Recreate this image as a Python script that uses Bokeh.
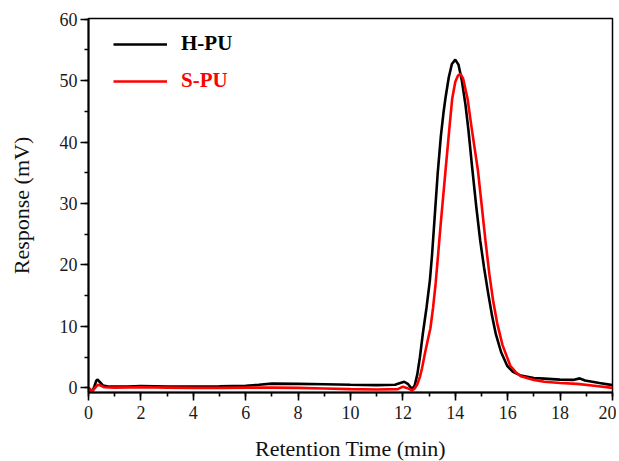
from bokeh.plotting import figure
from bokeh.models import Range1d, Legend, LegendItem, SingleIntervalTicker
from bokeh.embed import file_html
from bokeh.resources import INLINE

# H-PU (black) retention time (min) and response (mV)
hpu_t = [0.0, 0.08, 0.15, 0.22, 0.30, 0.35, 0.42, 0.55, 0.8, 1.5, 2.0, 3.0, 4.0, 5.0,
         6.0, 6.5, 7.0, 8.0, 9.0, 10.0, 11.0, 11.7, 11.9, 12.05, 12.2, 12.35, 12.45,
         12.55, 12.65, 12.76, 12.9, 13.03, 13.11, 13.2, 13.33, 13.45, 13.55, 13.63,
         13.75, 13.87, 14.0, 14.12, 14.25, 14.39, 14.5, 14.64, 14.8, 14.95, 15.1,
         15.25, 15.4, 15.55, 15.75, 15.98, 16.2, 16.5, 17.0, 17.4, 18.0, 18.5, 18.75,
         18.95, 19.5, 20.0]
hpu_v = [0.0, -0.3, -0.6, 0.2, 1.2, 1.35, 1.0, 0.4, 0.2, 0.2, 0.3, 0.2, 0.2, 0.25,
         0.35, 0.5, 0.7, 0.65, 0.6, 0.5, 0.45, 0.5, 0.8, 1.0, 0.6, -0.2, 0.4,
         2.2, 5.0, 8.8, 13.0, 17.5, 21.5, 27.0, 35.0, 41.0, 44.8, 47.3,
         50.5, 52.7, 53.4, 52.6, 50.0, 46.0, 42.0, 36.0, 29.5, 24.0, 19.5,
         15.5, 11.8, 8.7, 5.8, 3.6, 2.6, 2.0, 1.6, 1.5, 1.35, 1.3, 1.55,
         1.2, 0.8, 0.45]

# S-PU (red)
spu_t = [0.0, 0.08, 0.15, 0.25, 0.35, 0.45, 0.6, 1.0, 2.0, 3.0, 4.0, 5.0, 6.0, 7.0,
         8.0, 9.0, 10.0, 11.0, 11.8, 12.0, 12.15, 12.35, 12.45, 12.55, 12.65, 12.73,
         12.85, 12.95, 13.05, 13.15, 13.25, 13.45, 13.64, 13.78, 13.88, 14.0, 14.1,
         14.2, 14.3, 14.47, 14.6, 14.72, 14.86, 15.0, 15.15, 15.3, 15.45, 15.6, 15.8,
         16.1, 16.3, 16.5, 17.0, 17.4, 18.0, 18.65, 19.3, 20.0]
spu_v = [0.0, -0.3, -0.5, 0.0, 0.5, 0.4, 0.1, 0.05, 0.1, 0.05, 0.0, 0.0, 0.05, 0.05,
         0.0, -0.1, -0.2, -0.25, -0.2, 0.2, 0.0, -0.4, -0.1, 0.6, 1.8, 3.2,
         5.8, 7.8, 9.7, 13.0, 17.0, 27.0, 36.0, 42.5, 47.0, 49.8, 50.8,
         51.1, 50.3, 47.0, 43.0, 39.5, 35.5, 30.0, 24.0, 18.5, 14.0, 10.5, 7.0,
         3.6, 2.6, 1.9, 1.3, 1.0, 0.8, 0.65, 0.35, 0.0]

series_names = ["H-PU", "S-PU"]
series_colors = ["#000000", "#ff0000"]

FONT = "Liberation Serif"

p = figure(output_backend="svg", toolbar_location=None,
           frame_width=524, frame_height=374,
           min_border_left=88, min_border_top=18, min_border_right=4, min_border_bottom=66,
           x_range=Range1d(0, 20), y_range=Range1d(-0.75, 60.1),
           background_fill_color="white", border_fill_color="white")

p.xgrid.visible = False
p.ygrid.visible = False
p.outline_line_color = "black"
p.outline_line_width = 1.5
p.outline_line_alpha = 1.0

r1 = p.line(hpu_t, hpu_v, line_color=series_colors[0], line_width=2.6)
r2 = p.line(spu_t, spu_v, line_color=series_colors[1], line_width=2.6)

# axes
p.xaxis.ticker = SingleIntervalTicker(interval=2, num_minor_ticks=2)
p.yaxis.ticker = SingleIntervalTicker(interval=10, num_minor_ticks=2)
for ax in (p.xaxis[0], p.yaxis[0]):
    ax.axis_line_width = 2
    ax.axis_line_color = "black"
    ax.major_tick_line_width = 1.6
    ax.minor_tick_line_width = 1.6
    ax.major_tick_in = 0
    ax.major_tick_out = 8
    ax.minor_tick_in = 0
    ax.minor_tick_out = 4
    ax.major_label_text_font = FONT
    ax.major_label_text_font_size = "18px"
    ax.major_label_text_color = "#1a1a1a"
    ax.axis_label_text_font = FONT
    ax.axis_label_text_font_size = "22px"
    ax.axis_label_text_font_style = "normal"
    ax.axis_label_text_color = "#111111"

p.xaxis.axis_label = "Retention Time (min)"
p.yaxis.axis_label = "Response (mV)"
p.xaxis.major_label_standoff = 5
p.xaxis.axis_label_standoff = 14
p.yaxis.major_label_standoff = 3
p.yaxis.axis_label_standoff = 23

leg1 = Legend(items=[LegendItem(label=series_names[0], renderers=[r1])],
              location=(25, 336), glyph_width=54, glyph_height=20, label_height=20,
              label_standoff=14, padding=0, margin=0, border_line_color=None,
              background_fill_alpha=0, label_text_font=FONT,
              label_text_font_style="bold", label_text_font_size="21px",
              label_text_color=series_colors[0])
leg2 = Legend(items=[LegendItem(label=series_names[1], renderers=[r2])],
              location=(25, 299), glyph_width=54, glyph_height=20, label_height=20,
              label_standoff=14, padding=0, margin=0, border_line_color=None,
              background_fill_alpha=0, label_text_font=FONT,
              label_text_font_style="bold", label_text_font_size="21px",
              label_text_color=series_colors[1])
p.add_layout(leg1)
p.add_layout(leg2)

open("out.html", "w").write(file_html(p, INLINE))
